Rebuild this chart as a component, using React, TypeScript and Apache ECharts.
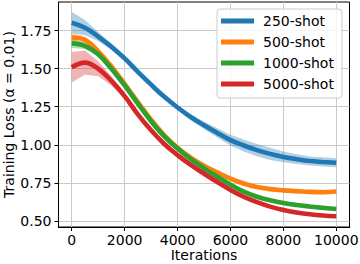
import React, { useEffect, useRef } from "react";
import * as echarts from "echarts";

const iterations = [0, 500, 1000, 1500, 2000, 2500, 3000, 3500, 4000, 4500, 5000, 5500, 6000, 6500, 7000, 7500, 8000, 8500, 9000, 9500, 10000];

const seriesNames = ["250-shot", "500-shot", "1000-shot", "5000-shot"];
const seriesColors = ["#1f77b4", "#ff7f0e", "#2ca02c", "#d62728"];

const loss250 = [1.803, 1.77, 1.712, 1.645, 1.568, 1.48, 1.395, 1.315, 1.245, 1.182, 1.128, 1.078, 1.03, 0.995, 0.965, 0.94, 0.92, 0.905, 0.893, 0.887, 0.882];
const loss500 = [1.705, 1.69, 1.615, 1.515, 1.40, 1.28, 1.165, 1.062, 0.98, 0.915, 0.862, 0.818, 0.777, 0.745, 0.722, 0.708, 0.70, 0.695, 0.69, 0.688, 0.692];
const loss1000 = [1.667, 1.65, 1.595, 1.50, 1.39, 1.27, 1.155, 1.055, 0.975, 0.905, 0.845, 0.79, 0.737, 0.692, 0.658, 0.635, 0.617, 0.604, 0.594, 0.585, 0.577];
const loss5000 = [1.51, 1.54, 1.50, 1.42, 1.32, 1.20, 1.095, 1.005, 0.932, 0.867, 0.81, 0.755, 0.703, 0.658, 0.622, 0.593, 0.571, 0.555, 0.543, 0.535, 0.53];

const spread250 = [0.07, 0.05, 0.03, 0.02, 0.015, 0.012, 0.012, 0.012, 0.015, 0.02, 0.025, 0.03, 0.035, 0.04, 0.04, 0.04, 0.035, 0.032, 0.03, 0.03, 0.03];
const spread500 = [0.03, 0.022, 0.015, 0.01, 0.01, 0.008, 0.008, 0.008, 0.008, 0.01, 0.01, 0.01, 0.01, 0.01, 0.01, 0.01, 0.01, 0.01, 0.01, 0.01, 0.01];
const spread1000 = [0.03, 0.02, 0.012, 0.01, 0.008, 0.008, 0.008, 0.008, 0.008, 0.008, 0.008, 0.008, 0.008, 0.008, 0.008, 0.008, 0.008, 0.008, 0.008, 0.008, 0.008];
const spread5000 = [0.1, 0.08, 0.05, 0.03, 0.02, 0.015, 0.01, 0.01, 0.01, 0.008, 0.008, 0.008, 0.008, 0.008, 0.008, 0.008, 0.008, 0.008, 0.008, 0.008, 0.008];

const xTicks = [0, 2000, 4000, 6000, 8000, 10000];
const yTicks = [0.5, 0.75, 1.0, 1.25, 1.5, 1.75];

const allLoss = [loss250, loss500, loss1000, loss5000];
const allSpread = [spread250, spread500, spread1000, spread5000];

const FONT = "DejaVu Sans";

export default function App() {
  const ref = useRef<HTMLDivElement>(null);
  useEffect(() => {
    if (!ref.current) return;
    const chart = echarts.init(ref.current, null, { renderer: "svg" });
    const series: any[] = [];
    allLoss.forEach((loss, i) => {
      const sp = allSpread[i];
      series.push({
        name: "band" + i,
        type: "custom",
        silent: true,
        z: 1,
        data: [[0, loss[0]]],
        encode: { x: 0, y: 1 },
        renderItem: (params: any, api: any) => {
          const upper = iterations.map((x, k) => api.coord([x, loss[k] + sp[k]]));
          const lower = iterations.map((x, k) => api.coord([x, loss[k] - sp[k]])).reverse();
          return {
            type: "polygon",
            shape: { points: upper.concat(lower) },
            style: { fill: seriesColors[i], opacity: 0.35 },
          };
        },
      });
    });
    allLoss.forEach((loss, i) => {
      series.push({
        name: seriesNames[i],
        type: "line",
        data: iterations.map((x, k) => [x, loss[k]]),
        lineStyle: { color: seriesColors[i], width: 4.6 },
        itemStyle: { color: seriesColors[i] },
        showSymbol: false,
        symbol: "none",
        smooth: 0.4,
        z: 2 + i,
      });
    });

    chart.setOption({
      animation: false,
      textStyle: { fontFamily: FONT },
      grid: {
        left: 58.5,
        right: 10.5,
        top: 2,
        bottom: 37,
        containLabel: false,
        outerBoundsMode: "none",
        show: true,
        borderColor: "#000",
        borderWidth: 1,
        backgroundColor: "transparent",
      },
      legend: {
        data: seriesNames,
        orient: "vertical",
        left: 217,
        top: 9,
        icon: "rect",
        itemWidth: 33,
        itemHeight: 5,
        itemGap: 7,
        padding: [5, 8, 7, 4],
        backgroundColor: "rgba(255,255,255,0.8)",
        borderColor: "#cccccc",
        borderWidth: 1,
        borderRadius: 3,
        textStyle: { fontFamily: FONT, fontSize: 14, color: "#000", lineHeight: 14, padding: [0, 0, 0, 4] },
      },
      xAxis: {
        type: "value",
        min: -500,
        max: 10500,
        name: "Iterations",
        nameLocation: "middle",
        nameGap: 21,
        nameMoveOverlap: false,
        nameTextStyle: { fontFamily: FONT, fontSize: 14, color: "#000", lineHeight: 14 },
        axisLine: { show: true, onZero: false, lineStyle: { color: "#000", width: 1 } },
        axisTick: { show: true, length: 4, lineStyle: { color: "#000" }, customValues: xTicks },
        axisLabel: { fontFamily: FONT, fontSize: 14, color: "#000", margin: 6, customValues: xTicks, formatter: (v: number) => String(v) },
        splitLine: { show: true, lineStyle: { color: "#cbcbcb", width: 1 } },
      },
      yAxis: {
        type: "value",
        min: 0.459,
        max: 1.939,
        name: "Training Loss (α = 0.01)",
        nameLocation: "middle",
        nameGap: 43,
        nameMoveOverlap: false,
        nameTextStyle: { fontFamily: FONT, fontSize: 14, color: "#000", lineHeight: 14 },
        axisLine: { show: true, onZero: false, lineStyle: { color: "#000", width: 1 } },
        axisTick: { show: true, length: 4, lineStyle: { color: "#000" }, customValues: yTicks },
        axisLabel: { fontFamily: FONT, fontSize: 14, color: "#000", margin: 7, customValues: yTicks, formatter: (v: number) => v.toFixed(2) },
        splitLine: { show: true, lineStyle: { color: "#cbcbcb", width: 1 } },
      },
      series,
    });
    return () => chart.dispose();
  }, []);
  return <div ref={ref} style={{ width: 360, height: 264, position: "absolute", left: 0, top: 0 }} />;
}
